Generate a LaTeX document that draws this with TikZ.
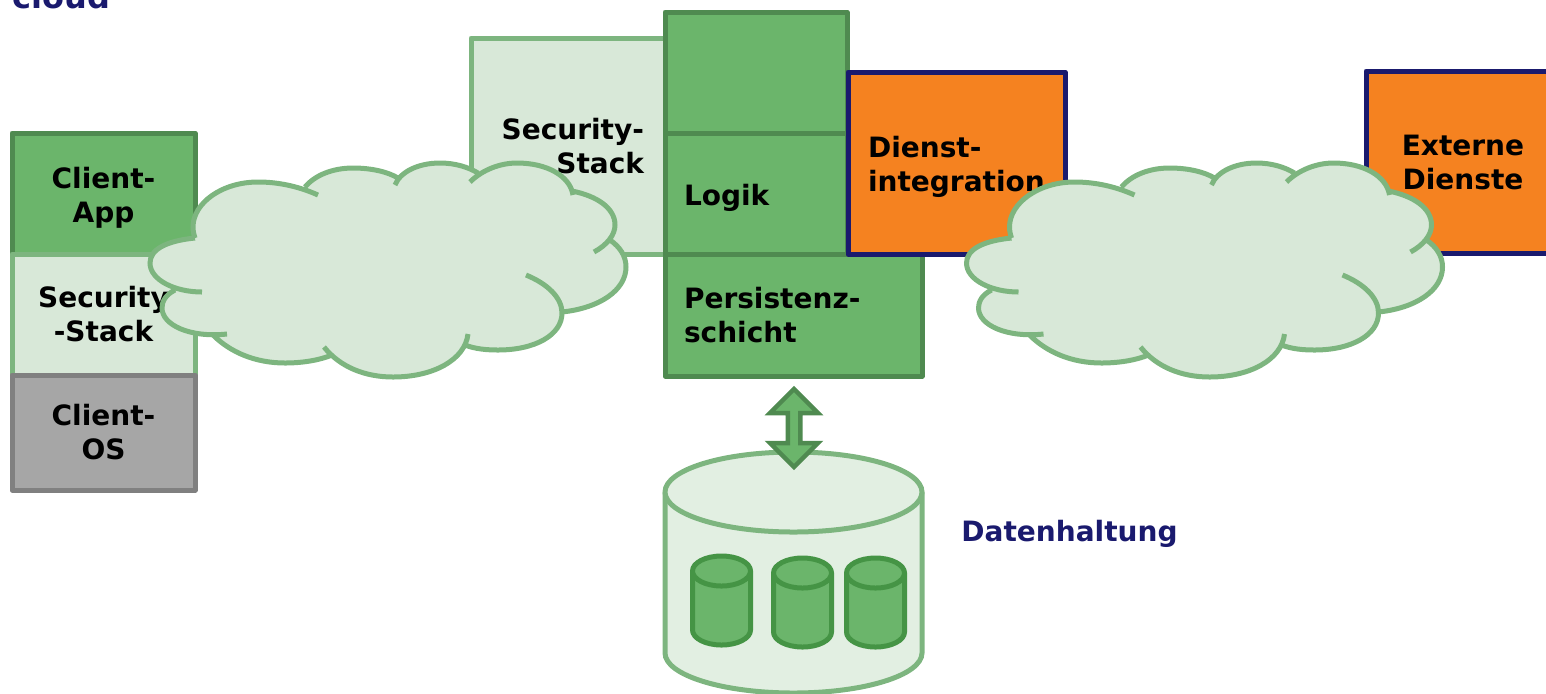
\documentclass[tikz,border=0pt]{standalone}
\usepackage{fontspec}
\setmainfont{DejaVu Sans}
\usetikzlibrary{shapes.arrows}
\definecolor{greenfill}{HTML}{6BB56B}
\definecolor{greenedge}{HTML}{4F8A50}
\definecolor{palefill}{HTML}{D8E8D8}
\definecolor{paleedge}{HTML}{7DB57F}
\definecolor{drumfill}{HTML}{E2EFE2}
\definecolor{drumedge}{HTML}{459445}
\definecolor{greyfill}{HTML}{A6A6A6}
\definecolor{greyedge}{HTML}{808080}
\definecolor{orangefill}{HTML}{F58220}
\definecolor{navy}{HTML}{1A1A6E}
\newcommand{\lowered}{\rule{0pt}{14.6pt}}
% one lobe after the other, going round from the left
\def\lobes{
    (195,238) .. controls (165,241) and (150,250) .. (150,263) .. controls (150,280) and (175,292) .. (202,292)
    (175,290) .. controls (165,295) and (162,302) .. (162,308) .. controls (162,325) and (190,338) .. (227,334)
    (213,335) .. controls (230,352) and (255,363) .. (285,363) .. controls (303,363) and (320,360) .. (332,355)
    (324,347) .. controls (340,367) and (365,377) .. (393,377) .. controls (433,377) and (465,360) .. (468,334)
    (465,345) .. controls (475,349) and (487,350) .. (498,350) .. controls (535,350) and (562,335) .. (562,313)
        .. controls (562,298) and (548,284) .. (526,275)
    (562,312) .. controls (600,308) and (626,290) .. (626,267) .. controls (626,256) and (620,247) .. (610,240)
    (594,252) .. controls (607,245) and (615,235) .. (615,225) .. controls (615,208) and (597,196) .. (572,191)
    (573,195) .. controls (570,176) and (547,163) .. (517,163) .. controls (500,163) and (482,170) .. (470,182)
    (478,173) .. controls (468,167) and (455,163) .. (440,163) .. controls (418,163) and (400,172) .. (395,185)
    (398,178) .. controls (388,172) and (372,168) .. (353,168) .. controls (333,168) and (315,175) .. (305,187)
    (318,195) .. controls (300,187) and (280,182) .. (258,182) .. controls (222,182) and (193,203) .. (193,227)
        .. controls (193,231) and (194,235) .. (195,238)
}
\tikzset{
cloudshape/.pic={
    \fill[palefill] \lobes (195,238) -- (175,289) -- (213,338) -- (335,358) -- (465,345) -- (562,312)
        -- (610,240) -- (572,193) -- (478,173) -- (398,178) -- (305,187) -- cycle;
    \draw[cloudline] \lobes;
},
pics/drum/.style n args={3}{code={
    \filldraw[pic actions] (-#1,0) arc[start angle=180,end angle=360,x radius=#1,y radius=#2]
        -- (#1,#3) arc[start angle=0,end angle=180,x radius=#1,y radius=#2] -- cycle;
    \draw[pic actions] (-#1,0) arc[start angle=180,end angle=0,x radius=#1,y radius=#2];
}}}
\begin{document}
\begin{tikzpicture}[x=.5pt,y=-.5pt,
cloudline/.style={draw=paleedge,line width=2.5pt},
box/.style={rectangle,line width=2.5pt,line join=round,font=\bfseries\fontsize{14}{17}\selectfont,inner sep=0pt,outer sep=0pt},
greenbox/.style={box,draw=greenedge,fill=greenfill},
palebox/.style={box,draw=paleedge,fill=palefill},
greybox/.style={box,draw=greyedge,fill=greyfill},
orangebox/.style={box,draw=navy,fill=orangefill},
caption/.style={font=\bfseries\fontsize{14}{17}\selectfont,text=navy,inner sep=0pt},
smalldrum/.style={draw=drumedge,fill=greenfill,line width=2.5pt}]
\clip (0,0) rectangle (1546,693);
\node (cloudcaption) [caption,font=\bfseries\fontsize{16}{17}\selectfont,anchor=base west] at (12,8) {cloud};
% client stack
\node (clientapp) [greenbox,minimum width=91.5pt,minimum height=60.5pt,align=center] at (103.5,193.5) {\lowered Client-\\App};
\node (clientsec) [palebox,minimum width=91.5pt,minimum height=60.5pt,align=center] at (103.5,314.5) {Security\\-Stack};
\node (clientos) [greybox,minimum width=91.5pt,minimum height=57.5pt,align=center] at (103.5,432.5) {Client-\\OS};
% service stack
\node (servsec) [palebox,minimum width=97pt,minimum height=108pt,text width=76pt,align=right] at (568,146) {Security-\\Stack};
\node (servtop) [greenbox,minimum width=91pt,minimum height=60.5pt] at (756,72.5) {};
\node (logik) [greenbox,minimum width=91pt,minimum height=60.5pt,text width=72pt,align=left] at (756,193.5) {\lowered Logik};
\node (persist) [greenbox,minimum width=128.5pt,minimum height=61pt,text width=109.5pt,align=left] at (793.5,315) {Persistenz-\\schicht};
\node (dienst) [orangebox,minimum width=108.5pt,minimum height=91pt,text width=88.5pt,align=left] at (956.5,163) {\lowered Dienst-\\integration};
\node (extern) [orangebox,minimum width=97pt,minimum height=91pt,align=center] at (1463,162) {Externe\\Dienste};
% data store
\pic [draw=paleedge,fill=drumfill,line width=2.5pt] at (793.5,492) {drum={128.5}{40}{161}};
\pic [smalldrum] at (721.5,571) {drum={29}{15}{59}};
\pic [smalldrum] at (802.5,573) {drum={29}{15}{59}};
\pic [smalldrum] at (875.5,573) {drum={29}{15}{59}};
\node (storelink) [double arrow,draw=greenedge,fill=greenfill,line width=2.25pt,rotate=90,inner sep=0pt,minimum height=39pt,minimum width=24pt,double arrow head extend=3.2pt] at (794,428) {};
\node (storecaption) [caption,anchor=base west] at (961,541) {Datenhaltung};
% the two clouds lie on top
\pic at (0,0) {cloudshape};
\pic at (816.5,0) {cloudshape};
\end{tikzpicture}
\end{document}
